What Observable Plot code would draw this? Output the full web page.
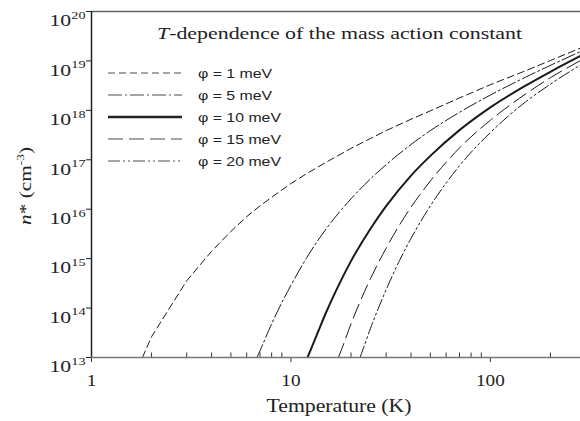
<!DOCTYPE html>
<html>
<head>
<meta charset="utf-8">
<script src="https://cdn.jsdelivr.net/npm/d3@7"></script>
<script src="https://cdn.jsdelivr.net/npm/@observablehq/plot@0.6"></script>
<style>
  html, body { margin: 0; padding: 0; background: #fff; }
  #chart svg { display: block; }
</style>
</head>
<body>
<div id="chart"></div>
<script>
// Mass action constant n* (cm^-3) versus temperature for five ionisation energies
const seriesLabels = ["φ = 1 meV", "φ = 5 meV", "φ = 10 meV", "φ = 15 meV", "φ = 20 meV"];

const temps1  = [1.8, 2, 3, 4, 5, 6, 7, 8, 10, 12, 15, 20, 25, 30, 40, 50, 70, 100, 150, 200, 283];
const nstar1  = [1.0e13, 2.63e13, 3.55e14, 1.41e15, 3.55e15, 7.08e15, 1.17e16, 1.74e16, 3.31e16, 5.25e16, 8.91e16,
                 1.70e17, 2.69e17, 3.89e17, 6.61e17, 9.77e17, 1.78e18, 3.31e18, 6.31e18, 1.02e19, 1.82e19];

const temps5  = [6.75, 7, 8, 9, 10, 12, 15, 20, 25, 30, 40, 50, 70, 100, 150, 200, 283];
const nstar5  = [1.0e13, 1.38e13, 4.79e13, 1.29e14, 2.88e14, 1.05e15, 3.98e15, 1.62e16, 4.07e16, 7.94e16, 2.04e17,
                 3.89e17, 9.12e17, 2.04e18, 4.68e18, 8.13e18, 1.55e19];

const temps10 = [12.1, 13, 14, 15, 17, 20, 25, 30, 40, 50, 70, 100, 150, 200, 283];
const nstar10 = [1.0e13, 2.0e13, 4.17e13, 8.13e13, 2.45e14, 8.91e14, 3.98e15, 1.15e16, 4.79e16, 1.20e17, 3.98e17,
                 1.15e18, 3.16e18, 6.03e18, 1.26e19];

const temps15 = [17.3, 18, 20, 22, 25, 30, 35, 40, 50, 60, 70, 100, 150, 200, 283];
const nstar15 = [1.0e13, 1.51e13, 4.79e13, 1.23e14, 3.89e14, 1.62e15, 4.79e15, 1.10e16, 3.72e16, 8.91e16, 1.74e17,
                 6.31e17, 2.14e18, 4.57e18, 1.02e19];

const temps20 = [22.2, 23, 25, 30, 35, 40, 50, 60, 70, 100, 150, 200, 283];
const nstar20 = [1.0e13, 1.48e13, 3.80e13, 2.34e14, 9.12e14, 2.57e15, 1.17e16, 3.39e16, 7.59e16, 3.55e17, 1.48e18,
                 3.39e18, 8.32e18];

const xMajorTicks = [1, 10, 100];
const xMinorTicks = [2, 3, 4, 5, 6, 7, 8, 9, 20, 30, 40, 50, 60, 70, 80, 90, 200];
const yTicks = [1e13, 1e14, 1e15, 1e16, 1e17, 1e18, 1e19, 1e20];

const titleItalic = "T";
const titleRest = "-dependence of the mass action constant";
const xLabel = "Temperature (K)";

// line styles per series
const dashes = ["7,4", "14,3,2,3", null, "15,6", "12,3,2,3,2,3"];
const widths = [1, 1, 2, 1, 1];
const curves = ["linear", "monotone-x", "monotone-x", "monotone-x", "monotone-x"];
const legendColors = ["#888", "#888", "#222", "#888", "#888"];

const temps = [temps1, temps5, temps10, temps15, temps20];
const nstars = [nstar1, nstar5, nstar10, nstar15, nstar20];
const rows = seriesLabels.flatMap((s, i) => temps[i].map((t, j) => ({series: s, T: t, n: nstars[i][j]})));

const W = 580, H = 421;
const mL = 91, mR = 0, mT = 11, mB = 64;

const plot = Plot.plot({
  width: W,
  height: H,
  marginLeft: mL,
  marginRight: mR,
  marginTop: mT,
  marginBottom: mB,
  style: {background: "#fff", fontFamily: "'Liberation Serif', 'Times New Roman', serif", fontSize: "16px", color: "#222"},
  x: {type: "log", domain: [1, 283]},
  y: {type: "log", domain: [1e13, 1e20]},
  marks: [
    Plot.ruleY([1e20], {stroke: "#666", strokeWidth: 1.5}),
    Plot.tickX(xMinorTicks, {x: d => d, insetTop: H - mT - mB - 4.5, stroke: "#333"}),
    Plot.axisX({ticks: xMajorTicks, tickSize: 5, tickPadding: 12, tickFormat: d => String(d), label: null, stroke: "#333"}),
    Plot.axisY({ticks: yTicks, tickSize: 5, tickPadding: 1, tickFormat: d => String(Math.round(Math.log10(d))), label: null, stroke: "#222"}),
    ...seriesLabels.map((s, i) => Plot.line(rows.filter(r => r.series === s), {
      x: "T", y: "n", stroke: "#1a1a1a", strokeWidth: widths[i], strokeDasharray: dashes[i], curve: curves[i], clip: true
    })),
    Plot.ruleX([1], {stroke: "#222", strokeWidth: 1.5}),
    Plot.ruleY([1e13], {stroke: "#777", strokeWidth: 1.6})
  ]
});

document.getElementById("chart").appendChild(plot);
const svg = d3.select(plot);

// stretch a text element horizontally by a factor (wide typesetting)
function stretch(node, factor) {
  const len = node.getComputedTextLength();
  node.setAttribute("textLength", (len * factor).toFixed(1));
  node.setAttribute("lengthAdjust", "spacingAndGlyphs");
}

// y tick labels as powers of ten
svg.selectAll('g[aria-label="y-axis tick label"] text').each(function() {
  const exp = this.textContent;
  const t = d3.select(this);
  t.text(null).attr("dy", "0.6em").attr("font-size", "16px");
  t.append("tspan").text("10");
  t.append("tspan").attr("font-size", "10.5px").attr("dy", "-7.3").text(exp);
  stretch(this, 1.36);
});
svg.selectAll('g[aria-label="x-axis tick label"] text').each(function() { stretch(this, 1.2); });

// title
const title = svg.append("text")
  .attr("x", 339.5).attr("y", 38.5)
  .attr("text-anchor", "middle")
  .attr("font-family", "'Liberation Serif', serif")
  .attr("font-size", "17.5px")
  .attr("fill", "#222");
title.append("tspan").attr("font-style", "italic").text(titleItalic);
title.append("tspan").text(titleRest);
title.attr("textLength", 365).attr("lengthAdjust", "spacingAndGlyphs");

// x axis label
svg.append("text")
  .attr("x", 339).attr("y", 412)
  .attr("text-anchor", "middle")
  .attr("font-family", "'Liberation Serif', serif")
  .attr("font-size", "19px")
  .attr("fill", "#222")
  .attr("textLength", 145).attr("lengthAdjust", "spacingAndGlyphs")
  .text(xLabel);

// y axis label
const yl = svg.append("text")
  .attr("transform", "translate(31,186) rotate(-90)")
  .attr("text-anchor", "middle")
  .attr("font-family", "'Liberation Serif', serif")
  .attr("font-size", "17.5px")
  .attr("fill", "#222");
yl.append("tspan").attr("font-style", "italic").text("n");
yl.append("tspan").text("* (cm");
yl.append("tspan").attr("font-size", "11px").attr("dy", "-7").text("-3");
yl.append("tspan").attr("dy", "7").text(")");
yl.attr("textLength", 78).attr("lengthAdjust", "spacingAndGlyphs");

// legend
const legend = svg.append("g").attr("aria-label", "legend");
seriesLabels.forEach((s, i) => {
  const y = 73 + i * 22;
  legend.append("line")
    .attr("x1", 108).attr("x2", 182).attr("y1", y).attr("y2", y)
    .attr("stroke", legendColors[i])
    .attr("stroke-width", i === 2 ? 2.5 : 1.5)
    .attr("stroke-dasharray", dashes[i]);
  const t = legend.append("text")
    .attr("x", 198).attr("y", y + 5)
    .attr("text-anchor", "start")
    .attr("font-family", "'Liberation Sans', Arial, sans-serif")
    .attr("font-size", "13px")
    .attr("fill", "#222")
    .text(s);
  stretch(t.node(), 1.22);
});
</script>
</body>
</html>
